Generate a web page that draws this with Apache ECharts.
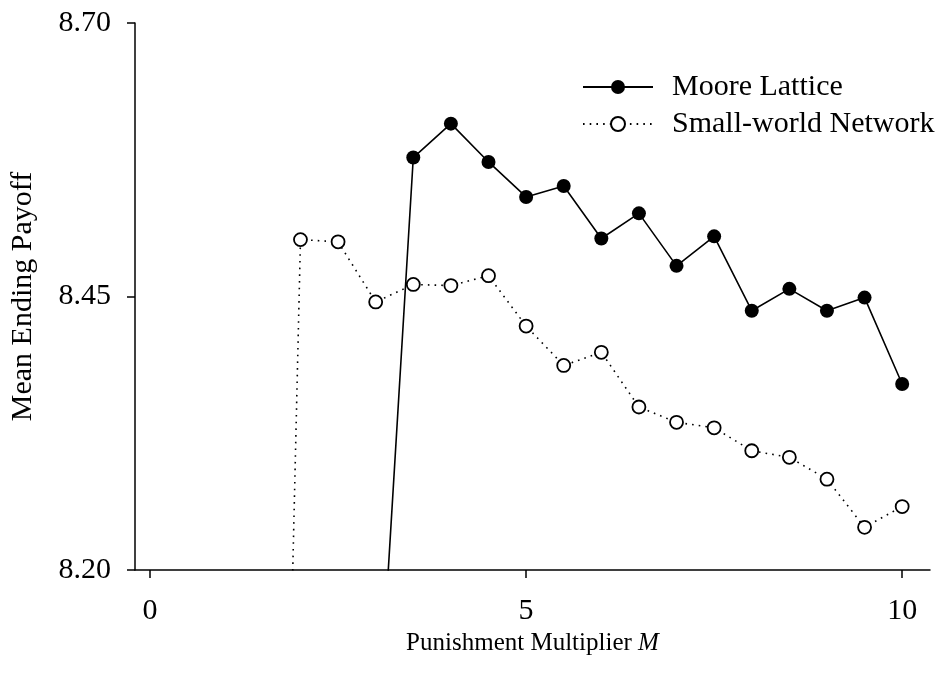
<!DOCTYPE html>
<html>
<head>
<meta charset="utf-8">
<title>Mean Ending Payoff vs Punishment Multiplier</title>
<script src="https://cdn.jsdelivr.net/npm/echarts@6/dist/echarts.min.js"></script>
<style>
  html, body { margin: 0; padding: 0; background: #fff; }
  #chart { width: 938px; height: 679px; }
</style>
</head>
<body>
<div id="chart"></div>
<script>
// Punishment multiplier values M
const multipliers = [1.5, 2, 2.5, 3, 3.5, 4, 4.5, 5, 5.5, 6, 6.5, 7, 7.5, 8, 8.5, 9, 9.5, 10];

// Mean ending payoff, Moore lattice (no result below M = 3)
const mooreLattice = [null, null, null, 8.010, 8.577, 8.608, 8.573, 8.541, 8.551, 8.503, 8.526, 8.478, 8.505, 8.437, 8.457, 8.437, 8.449, 8.370];

// Mean ending payoff, small-world network
const smallWorld = [7.030, 8.502, 8.500, 8.445, 8.461, 8.460, 8.469, 8.423, 8.387, 8.399, 8.349, 8.335, 8.330, 8.309, 8.303, 8.283, 8.239, 8.258];

// Axis tick values
const xTicks = [0, 5, 10];
const yTicks = [8.20, 8.45, 8.70];

const FONT = '"Liberation Serif", "Times New Roman", serif';

function pairs(xs, ys) {
  return xs.map((x, i) => [x, ys[i]]);
}

const chart = echarts.init(document.getElementById('chart'), null, { renderer: 'canvas' });

chart.setOption({
  backgroundColor: '#ffffff',
  animation: false,
  textStyle: { fontFamily: FONT, color: '#000' },
  grid: { left: 135, right: 8, top: 23, bottom: 109, containLabel: false },
  legend: {
    orient: 'vertical',
    left: 577,
    top: 67,
    itemWidth: 70,
    itemHeight: 17.5,
    itemGap: 7,
    textStyle: { fontFamily: FONT, fontSize: 30, color: '#000', padding: [0, 0, 0, 14] },
    data: ['Moore Lattice', 'Small-world Network']
  },
  xAxis: {
    type: 'value',
    min: -0.2,
    max: 10.37,
    name: 'Punishment Multiplier {i|M}',
    nameLocation: 'middle',
    nameGap: 45,
    nameTextStyle: {
      fontFamily: FONT, fontSize: 25, color: '#000',
      rich: { i: { fontFamily: FONT, fontSize: 25, fontStyle: 'italic', color: '#000' } }
    },
    axisLine: { show: true, onZero: false, lineStyle: { color: '#000', width: 1.5 } },
    axisTick: { show: true, inside: false, length: 8, customValues: xTicks, lineStyle: { color: '#000', width: 1.5 } },
    axisLabel: { customValues: xTicks, fontFamily: FONT, fontSize: 30, color: '#000', margin: 26 },
    splitLine: { show: false }
  },
  yAxis: {
    type: 'value',
    min: 8.2,
    max: 8.7,
    name: 'Mean Ending Payoff',
    nameLocation: 'middle',
    nameGap: 97,
    nameTextStyle: { fontFamily: FONT, fontSize: 30, color: '#000' },
    axisLine: { show: true, onZero: false, lineStyle: { color: '#000', width: 1.5 } },
    axisTick: { show: true, inside: false, length: 8, customValues: yTicks, lineStyle: { color: '#000', width: 1.5 } },
    axisLabel: {
      customValues: yTicks, fontFamily: FONT, fontSize: 30, color: '#000', margin: 24,
      formatter: v => Number(v).toFixed(2)
    },
    splitLine: { show: false }
  },
  series: [
    {
      name: 'Moore Lattice',
      type: 'line',
      clip: true,
      data: pairs(multipliers, mooreLattice),
      symbol: 'circle',
      symbolSize: 14,
      showAllSymbol: true,
      itemStyle: { color: '#000', borderColor: '#000', borderWidth: 0 },
      lineStyle: { color: '#000', width: 1.6, type: 'solid' },
      z: 3
    },
    {
      name: 'Small-world Network',
      type: 'line',
      clip: true,
      data: pairs(multipliers, smallWorld),
      symbol: 'circle',
      symbolSize: 13,
      showAllSymbol: true,
      itemStyle: { color: '#fff', borderColor: '#000', borderWidth: 1.8 },
      lineStyle: { color: '#000', width: 1.6, type: [1.6, 5.1], cap: 'butt' },
      z: 2
    }
  ]
});
</script>
</body>
</html>
